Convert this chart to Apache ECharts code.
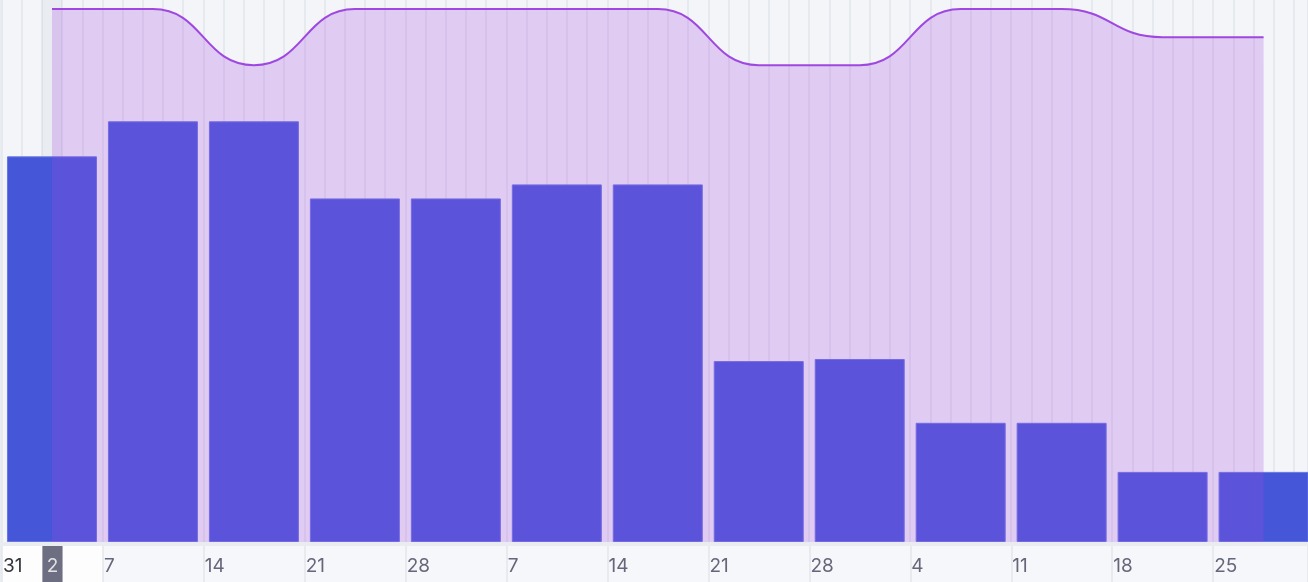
<!DOCTYPE html>
<html>
<head>
<meta charset="utf-8">
<script src="https://cdn.jsdelivr.net/npm/echarts@6/dist/echarts.min.js"></script>
<style>
  body { margin: 0; background: #e9edf1; }
  #chart { width: 1308px; height: 582px; }
</style>
</head>
<body>
<div id="chart"></div>
<script>
// weeks starting Monday (Jan 31 .. Apr 25), x axis counts working days
var weekLabels = ['31', '7', '14', '21', '28', '7', '14', '21', '28', '4', '11', '18', '25'];
var booked = [27.5, 30, 30, 24.5, 24.5, 25.5, 25.5, 12.9, 13.05, 8.5, 8.5, 5, 5];
var capacity = [38, 38, 34, 38, 38, 38, 38, 34, 34, 38, 38, 36, 36];
var todayIndex = 2;      // working day index of "today"
var todayLabel = '2';

var daysPerWeek = 5;
var xMax = 64.7;
var yMax = 38.65;

function weekCenter(i) {
  return i * daysPerWeek + daysPerWeek / 2;
}

var barData = booked.map(function (v, i) { return [weekCenter(i), v]; });
var lineData = capacity.map(function (v, i) { return [weekCenter(i), v]; });

var chart = echarts.init(document.getElementById('chart'));

var option = {
  animation: false,
  grid: [
    { left: 1.5, right: 0, top: 0, height: 542, show: true, borderWidth: 0, backgroundColor: '#f3f5f8' },
    { left: 1.5, right: 0, top: 546, height: 36, show: true, borderWidth: 0, backgroundColor: '#f5f7fa' }
  ],
  xAxis: [
    {
      type: 'value', gridIndex: 0, min: 0, max: xMax, interval: 1,
      axisLine: { show: false }, axisTick: { show: false }, axisLabel: { show: false },
      splitLine: { show: true, lineStyle: { color: '#e6e9ee', width: 2 } }
    },
    {
      type: 'value', gridIndex: 1, position: 'top', min: 0, max: xMax, interval: daysPerWeek,
      z: 5,
      axisLine: { show: false }, axisTick: { show: false },
      splitLine: { show: true, lineStyle: { color: '#e3e6ea', width: 1.5 } },
      axisLabel: {
        inside: true,
        margin: 20,
        align: 'left',
        verticalAlign: 'middle',
        padding: [0, 0, 0, 1],
        showMinLabel: true,
        showMaxLabel: false,
        fontFamily: 'Inter',
        fontSize: 19,
        color: '#66667b',
        formatter: function (v) {
          if (v % daysPerWeek !== 0) return '';
          var i = v / daysPerWeek;
          var t = weekLabels[i];
          if (t === undefined) return '';
          return i === 0 ? '{first|' + t + '}' : t;
        },
        rich: {
          first: { color: '#34343c', fontFamily: 'Inter', fontSize: 19 }
        }
      }
    }
  ],
  yAxis: [
    { type: 'value', gridIndex: 0, min: 0, max: yMax, show: false, splitLine: { show: false } },
    { type: 'value', gridIndex: 1, min: 0, max: 1, show: false, splitLine: { show: false } }
  ],
  series: [
    {
      // today column in the plot
      type: 'line', xAxisIndex: 0, yAxisIndex: 0, z: 1,
      data: [[0, 0]], symbol: 'none', lineStyle: { opacity: 0 },
      markArea: {
        silent: true,
        itemStyle: { color: 'rgba(90,100,130,0.06)' },
        data: [[{ xAxis: todayIndex }, { xAxis: todayIndex + 1 }]]
      }
    },
    {
      type: 'bar', xAxisIndex: 0, yAxisIndex: 0, z: 2,
      barWidth: 90,
      data: barData,
      itemStyle: { color: '#4557d8', borderColor: '#6876e2', borderWidth: 1 }
    },
    {
      type: 'line', xAxisIndex: 0, yAxisIndex: 0, z: 3,
      data: lineData,
      smooth: 0.5,
      smoothMonotone: 'x',
      symbol: 'none',
      lineStyle: { color: '#9f48e0', width: 2 },
      areaStyle: { color: '#a446e3', opacity: 0.24 }
    },
    {
      // label band: current week
      type: 'line', xAxisIndex: 1, yAxisIndex: 1, z: 1,
      data: [[0, 0]], symbol: 'none', lineStyle: { opacity: 0 },
      markArea: {
        silent: true,
        label: { show: false },
        itemStyle: { color: '#fdfdfe' },
        data: [[{ xAxis: 0 }, { xAxis: daysPerWeek }]]
      }
    },
    {
      // label band: today marker box
      type: 'line', xAxisIndex: 1, yAxisIndex: 1, z: 6,
      data: [[0, 0]], symbol: 'none', lineStyle: { opacity: 0 },
      markArea: {
        silent: true,
        label: { show: false },
        itemStyle: { color: '#6e6e82' },
        data: [[{ xAxis: todayIndex }, { xAxis: todayIndex + 1 }]]
      }
    },
    {
      // label band: today marker text
      type: 'scatter', xAxisIndex: 1, yAxisIndex: 1, z: 7,
      data: [[todayIndex + 0.5, 0.45]],
      symbolSize: 2,
      itemStyle: { color: 'rgba(0,0,0,0)' },
      silent: true,
      label: {
        show: true, position: 'inside', formatter: todayLabel,
        color: '#ffffff', fontFamily: 'Inter', fontSize: 19
      }
    }
  ]
};

chart.setOption(option);
</script>
</body>
</html>
